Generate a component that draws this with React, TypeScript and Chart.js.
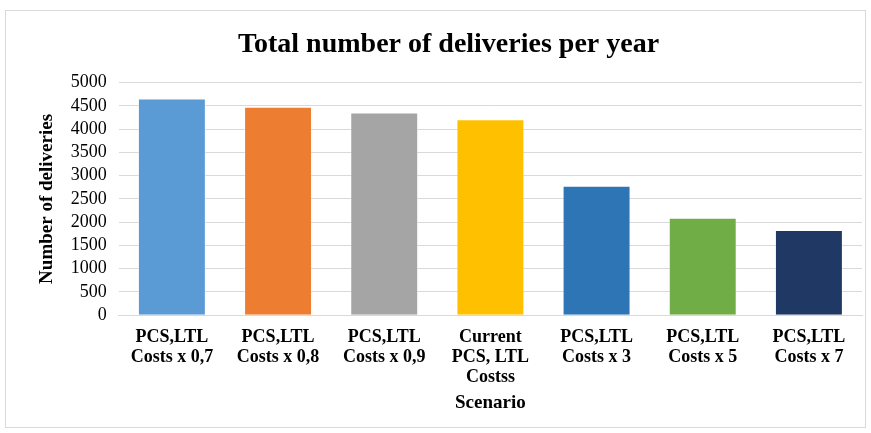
import React, { useEffect, useRef } from "react";
import { Chart, registerables } from "chart.js";

Chart.register(...registerables);

const categories: string[][] = [
  ["PCS,LTL", "Costs x 0,7"],
  ["PCS,LTL", "Costs x 0,8"],
  ["PCS,LTL", "Costs x 0,9"],
  ["Current", "PCS, LTL", "Costss"],
  ["PCS,LTL", "Costs x 3"],
  ["PCS,LTL", "Costs x 5"],
  ["PCS,LTL", "Costs x 7"],
];
const deliveries: number[] = [4660, 4480, 4355, 4210, 2785, 2095, 1830];
const barColors: string[] = ["#5B9BD5", "#ED7D31", "#A5A5A5", "#FFC000", "#2E75B6", "#70AD47", "#203864"];
const chartTitle = "Total number of deliveries per year";
const yTitle = "Number of deliveries";
const xTitle = "Scenario";

const FONT = "'Liberation Serif', 'Times New Roman', serif";

export default function App() {
  const ref = useRef<HTMLCanvasElement | null>(null);
  useEffect(() => {
    if (!ref.current) return;
    const chart = new Chart(ref.current, {
      type: "bar",
      data: {
        labels: categories,
        datasets: [
          {
            data: deliveries,
            backgroundColor: barColors,
            borderColor: "rgba(255,255,255,0.35)",
            borderWidth: 1,
            categoryPercentage: 1,
            barPercentage: 0.64,
          },
        ],
      },
      options: {
        animation: false,
        responsive: true,
        maintainAspectRatio: false,
        layout: { padding: { left: 29, right: 3, top: 0, bottom: 13 } },
        plugins: {
          legend: { display: false },
          tooltip: { enabled: false },
          title: {
            display: true,
            text: chartTitle,
            color: "#000",
            font: { family: FONT, size: 28, weight: "bold" },
            padding: { top: 17, bottom: 21 },
          },
        },
        scales: {
          x: {
            grid: { display: false, drawTicks: false },
            border: { display: true, color: "#d9d9d9", width: 1 },
            ticks: {
              color: "#000",
              font: { family: FONT, size: 18, weight: "bold", lineHeight: 1.11 },
              padding: 12,
              maxRotation: 0,
              autoSkip: false,
            },
            title: {
              display: true,
              text: xTitle,
              color: "#000",
              font: { family: FONT, size: 19, weight: "bold" },
              padding: { top: -8, bottom: 0 },
            },
            afterFit: (scale: any) => {
              scale.paddingLeft = 0;
              scale.paddingRight = 0;
            },
          },
          y: {
            min: 0,
            max: 5000,
            grid: { color: "#d9d9d9", drawTicks: false },
            border: { display: false },
            ticks: {
              stepSize: 500,
              autoSkip: false,
              color: "#000",
              font: { family: FONT, size: 18 },
              padding: 12,
              callback: (v: any) => String(v),
            },
            title: {
              display: true,
              text: yTitle,
              color: "#000",
              font: { family: FONT, size: 19, weight: "bold" },
              padding: { top: 1, bottom: 0 },
            },
          },
        },
      },
    });
    return () => chart.destroy();
  }, []);
  return (
    <div style={{ position: "fixed", left: 0, top: 0, width: 871, height: 433, background: "#fff" }}>
      <div
        style={{
          position: "absolute",
          left: 5,
          top: 10,
          width: 859,
          height: 416,
          border: "1px solid #d9d9d9",
        }}
      >
        <canvas ref={ref} />
      </div>
    </div>
  );
}
